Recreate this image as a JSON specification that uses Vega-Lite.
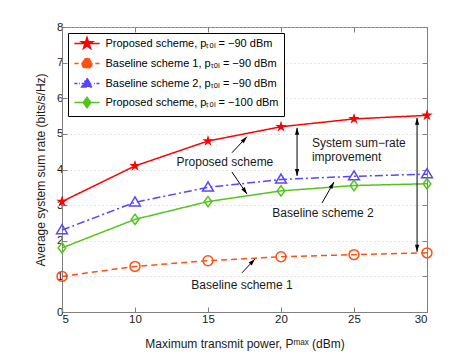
{
  "$schema": "https://vega.github.io/schema/vega-lite/v6.json",
  "width": 365,
  "height": 285,
  "autosize": {"type": "none"},
  "padding": {"left": 62, "top": 27, "right": 44, "bottom": 40},
  "config": {
    "font": "Liberation Sans",
    "view": {"stroke": "#808080", "strokeWidth": 1},
    "axis": {
      "domainColor": "#808080",
      "tickColor": "#808080",
      "labelColor": "#1a1a1a",
      "titleColor": "#1a1a1a",
      "labelFontSize": 11.5,
      "titleFontSize": 12,
      "titleFontWeight": "normal",
      "tickSize": -5,
      "labelPadding": 4,
      "gridColor": "#c8c8c8",
      "gridDash": [1, 3]
    },
    "legend": {
      "orient": "top-left",
      "offset": 6,
      "strokeColor": "#000000",
      "fillColor": "#ffffff",
      "padding": 5,
      "symbolSize": 81,
      "symbolStrokeWidth": 1.5,
      "symbolOpacity": 1,
      "symbolFillColor": "transparent",
      "labelFontSize": 11,
      "labelColor": "#000000",
      "labelLimit": 400,
      "symbolOffset": 8.5,
      "labelOffset": 13,
      "rowPadding": 3
    }
  },
  "datasets": {
    "series": [
      {"x": 5, "y": 3.1, "series": "Proposed scheme, pₜₒₗ = −90 dBm"},
      {"x": 10, "y": 4.1, "series": "Proposed scheme, pₜₒₗ = −90 dBm"},
      {"x": 15, "y": 4.8, "series": "Proposed scheme, pₜₒₗ = −90 dBm"},
      {"x": 20, "y": 5.2, "series": "Proposed scheme, pₜₒₗ = −90 dBm"},
      {"x": 25, "y": 5.42, "series": "Proposed scheme, pₜₒₗ = −90 dBm"},
      {"x": 30, "y": 5.52, "series": "Proposed scheme, pₜₒₗ = −90 dBm"},
      {"x": 5, "y": 1.0, "series": "Baseline scheme 1, pₜₒₗ = −90 dBm"},
      {"x": 10, "y": 1.28, "series": "Baseline scheme 1, pₜₒₗ = −90 dBm"},
      {"x": 15, "y": 1.44, "series": "Baseline scheme 1, pₜₒₗ = −90 dBm"},
      {"x": 20, "y": 1.55, "series": "Baseline scheme 1, pₜₒₗ = −90 dBm"},
      {"x": 25, "y": 1.61, "series": "Baseline scheme 1, pₜₒₗ = −90 dBm"},
      {"x": 30, "y": 1.66, "series": "Baseline scheme 1, pₜₒₗ = −90 dBm"},
      {"x": 5, "y": 2.3, "series": "Baseline scheme 2, pₜₒₗ = −90 dBm"},
      {"x": 10, "y": 3.08, "series": "Baseline scheme 2, pₜₒₗ = −90 dBm"},
      {"x": 15, "y": 3.5, "series": "Baseline scheme 2, pₜₒₗ = −90 dBm"},
      {"x": 20, "y": 3.72, "series": "Baseline scheme 2, pₜₒₗ = −90 dBm"},
      {"x": 25, "y": 3.81, "series": "Baseline scheme 2, pₜₒₗ = −90 dBm"},
      {"x": 30, "y": 3.87, "series": "Baseline scheme 2, pₜₒₗ = −90 dBm"},
      {"x": 5, "y": 1.8, "series": "Proposed scheme, pₜₒₗ = −100 dBm"},
      {"x": 10, "y": 2.6, "series": "Proposed scheme, pₜₒₗ = −100 dBm"},
      {"x": 15, "y": 3.1, "series": "Proposed scheme, pₜₒₗ = −100 dBm"},
      {"x": 20, "y": 3.4, "series": "Proposed scheme, pₜₒₗ = −100 dBm"},
      {"x": 25, "y": 3.55, "series": "Proposed scheme, pₜₒₗ = −100 dBm"},
      {"x": 30, "y": 3.6, "series": "Proposed scheme, pₜₒₗ = −100 dBm"}
    ],
    "arrows": [
      {"x1": 16.64, "y1": 4.47, "x2": 17.67, "y2": 4.92, "both": false},
      {"x1": 16.64, "y1": 3.93, "x2": 17.67, "y2": 3.31, "both": false},
      {"x1": 21.1, "y1": 3.82, "x2": 21.1, "y2": 5.17, "both": true},
      {"x1": 29.32, "y1": 1.69, "x2": 29.32, "y2": 5.45, "both": true},
      {"x1": 22.81, "y1": 3.06, "x2": 23.63, "y2": 3.65, "both": false},
      {"x1": 17.33, "y1": 1.1, "x2": 18.22, "y2": 1.49, "both": false}
    ],
    "textsCenter": [
      {"x": 16.16, "y": 4.21, "label": "Proposed scheme"},
      {"x": 22.88, "y": 2.78, "label": "Baseline scheme 2"},
      {"x": 17.33, "y": 0.76, "label": "Baseline scheme 1"}
    ],
    "textsLeft": [
      {"x": 22.12, "y": 4.75, "label": "System sum−rate"},
      {"x": 22.12, "y": 4.35, "label": "improvement"}
    ]
  },
  "layer": [
    {
      "data": {"name": "series"},
      "transform": [{"filter": "datum.x > 1000"}],
      "mark": {"type": "point", "filled": false, "strokeWidth": 1.5, "size": 81},
      "encoding": {
        "x": {"field": "x", "type": "quantitative", "scale": {"domain": [5, 30], "nice": false}, "axis": null},
        "y": {"field": "y", "type": "quantitative", "scale": {"domain": [0, 8], "nice": false}, "axis": null},
        "color": {"field": "series", "type": "nominal",
          "scale": {"domain": ["Proposed scheme, pₜₒₗ = −90 dBm", "Baseline scheme 1, pₜₒₗ = −90 dBm", "Baseline scheme 2, pₜₒₗ = −90 dBm", "Proposed scheme, pₜₒₗ = −100 dBm"],
            "range": ["#ff0000", "#ff5014", "#5846ff", "#55c41a"]},
          "legend": {"title": null, "labelExpr": "datum.label + '\u00a0\u00a0\u00a0'"}},
        "shape": {"field": "series", "type": "nominal",
          "scale": {"domain": ["Proposed scheme, pₜₒₗ = −90 dBm", "Baseline scheme 1, pₜₒₗ = −90 dBm", "Baseline scheme 2, pₜₒₗ = −90 dBm", "Proposed scheme, pₜₒₗ = −100 dBm"],
            "range": [
              "M-2.8,0L2.8,0M0,-1.33L0.3,-0.41L1.27,-0.41L0.48,0.16L0.78,1.08L0,0.51L-0.78,1.08L-0.48,0.16L-1.27,-0.41L-0.3,-0.41ZM0,-0.96L0.22,-0.3L0.91,-0.3L0.35,0.12L0.56,0.78L0,0.37L-0.56,0.78L-0.35,0.12L-0.91,-0.3L-0.22,-0.3ZM0,-0.6L0.14,-0.18L0.57,-0.18L0.22,0.07L0.35,0.49L0,0.23L-0.35,0.49L-0.22,0.07L-0.57,-0.18L-0.14,-0.18ZM0,-0.27L0.25,-0.08L0.16,0.22L-0.16,0.22L-0.25,-0.08Z",
              "M-2.8,0L-1.85,0M-1.1,0L1.1,0M1.85,0L2.8,0M1.1,0A1.1,1.1 0 1,1 -1.1,0A1.1,1.1 0 1,1 1.1,0Z",
              "M-2.8,0L-2.1,0M-1.75,0L-1.55,0M-1.2,0L1.2,0M1.55,0L1.75,0M2.1,0L2.8,0M0,-1.2L1.2,0.8L-1.2,0.8Z",
              "M-2.8,0L2.8,0M0,-1.15L0.85,0L0,1.15L-0.85,0Z"]},
          "legend": {"title": null, "labelExpr": "datum.label + '\u00a0\u00a0\u00a0'"}}
      }
    },
    {
      "data": {"name": "series"},
      "mark": {"type": "line", "strokeWidth": 1.5},
      "encoding": {
        "x": {"field": "x", "type": "quantitative",
          "axis": {"orient": "bottom", "values": [5, 10, 15, 20, 25, 30], "grid": false, "title": "Maximum transmit power, Pᵐᵃˣ (dBm)", "titlePadding": 14, "labelPadding": 6}},
        "y": {"field": "y", "type": "quantitative",
          "axis": {"orient": "left", "values": [0, 1, 2, 3, 4, 5, 6, 7, 8], "grid": true, "title": "Average system sum rate (bits/s/Hz)", "titlePadding": 9}},
        "color": {"field": "series", "type": "nominal", "legend": null},
        "strokeDash": {"field": "series", "type": "nominal",
          "scale": {"domain": ["Proposed scheme, pₜₒₗ = −90 dBm", "Baseline scheme 1, pₜₒₗ = −90 dBm", "Baseline scheme 2, pₜₒₗ = −90 dBm", "Proposed scheme, pₜₒₗ = −100 dBm"],
            "range": [[1, 0], [6, 4], [8, 3, 2, 3], [1, 0]]}, "legend": null}
      }
    },
    {
      "data": {"name": "series"},
      "transform": [{"filter": "datum.series === 'Proposed scheme, pₜₒₗ = −90 dBm'"}],
      "mark": {"type": "point", "filled": true, "strokeWidth": 1.5, "size": 81, "opacity": 1,
        "shape": "M0,-1.33L0.3,-0.41L1.27,-0.41L0.48,0.16L0.78,1.08L0,0.51L-0.78,1.08L-0.48,0.16L-1.27,-0.41L-0.3,-0.41Z"},
      "encoding": {
        "x": {"field": "x", "type": "quantitative", "axis": null},
        "y": {"field": "y", "type": "quantitative", "axis": null},
        "color": {"field": "series", "type": "nominal", "legend": null}
      }
    },
    {
      "data": {"name": "series"},
      "transform": [{"filter": "datum.series === 'Baseline scheme 1, pₜₒₗ = −90 dBm'"}],
      "mark": {"type": "point", "filled": false, "strokeWidth": 1.5, "size": 81, "opacity": 1,
        "shape": "M1.1,0A1.1,1.1 0 1,1 -1.1,0A1.1,1.1 0 1,1 1.1,0Z"},
      "encoding": {
        "x": {"field": "x", "type": "quantitative", "axis": null},
        "y": {"field": "y", "type": "quantitative", "axis": null},
        "color": {"field": "series", "type": "nominal", "legend": null}
      }
    },
    {
      "data": {"name": "series"},
      "transform": [{"filter": "datum.series === 'Baseline scheme 2, pₜₒₗ = −90 dBm'"}],
      "mark": {"type": "point", "filled": false, "strokeWidth": 1.5, "size": 81, "opacity": 1,
        "shape": "M0,-1.2L1.2,0.8L-1.2,0.8Z"},
      "encoding": {
        "x": {"field": "x", "type": "quantitative", "axis": null},
        "y": {"field": "y", "type": "quantitative", "axis": null},
        "color": {"field": "series", "type": "nominal", "legend": null}
      }
    },
    {
      "data": {"name": "series"},
      "transform": [{"filter": "datum.series === 'Proposed scheme, pₜₒₗ = −100 dBm'"}],
      "mark": {"type": "point", "filled": false, "strokeWidth": 1.5, "size": 81, "opacity": 1,
        "shape": "M0,-1.15L0.85,0L0,1.15L-0.85,0Z"},
      "encoding": {
        "x": {"field": "x", "type": "quantitative", "axis": null},
        "y": {"field": "y", "type": "quantitative", "axis": null},
        "color": {"field": "series", "type": "nominal", "legend": null}
      }
    },
    {
      "data": {"name": "series"},
      "mark": {"type": "point", "opacity": 0},
      "encoding": {
        "x": {"field": "x", "type": "quantitative", "axis": {"orient": "top", "values": [5, 10, 15, 20, 25, 30], "labels": false, "title": null, "grid": false, "domain": false}},
        "y": {"field": "y", "type": "quantitative", "axis": {"orient": "right", "values": [0, 1, 2, 3, 4, 5, 6, 7, 8], "labels": false, "title": null, "grid": false, "domain": false}}
      }
    },
    {
      "data": {"name": "arrows"},
      "mark": {"type": "rule", "color": "#000000", "strokeWidth": 1},
      "encoding": {
        "x": {"field": "x1", "type": "quantitative", "axis": null},
        "y": {"field": "y1", "type": "quantitative", "axis": null},
        "x2": {"field": "x2"},
        "y2": {"field": "y2"}
      }
    },
    {
      "data": {"name": "arrows"},
      "transform": [
        {"calculate": "atan2((datum.x2 - datum.x1) * 14.6, (datum.y2 - datum.y1) * 35.625) * 180 / PI", "as": "ang"}
      ],
      "mark": {"type": "point", "shape": "M0,0L0.6,2L-0.6,2Z", "size": 49, "filled": true, "color": "#000000", "opacity": 1},
      "encoding": {
        "x": {"field": "x2", "type": "quantitative", "axis": null},
        "y": {"field": "y2", "type": "quantitative", "axis": null},
        "angle": {"field": "ang", "type": "quantitative", "scale": null}
      }
    },
    {
      "data": {"name": "arrows"},
      "transform": [
        {"filter": "datum.both"},
        {"calculate": "atan2((datum.x1 - datum.x2) * 14.6, (datum.y1 - datum.y2) * 35.625) * 180 / PI", "as": "ang"}
      ],
      "mark": {"type": "point", "shape": "M0,0L0.6,2L-0.6,2Z", "size": 49, "filled": true, "color": "#000000", "opacity": 1},
      "encoding": {
        "x": {"field": "x1", "type": "quantitative", "axis": null},
        "y": {"field": "y1", "type": "quantitative", "axis": null},
        "angle": {"field": "ang", "type": "quantitative", "scale": null}
      }
    },
    {
      "data": {"name": "textsCenter"},
      "mark": {"type": "text", "fontSize": 12, "align": "center", "baseline": "middle", "color": "#1a1a1a"},
      "encoding": {
        "x": {"field": "x", "type": "quantitative", "axis": null},
        "y": {"field": "y", "type": "quantitative", "axis": null},
        "text": {"field": "label"}
      }
    },
    {
      "data": {"name": "textsLeft"},
      "mark": {"type": "text", "fontSize": 12, "align": "left", "baseline": "middle", "color": "#1a1a1a"},
      "encoding": {
        "x": {"field": "x", "type": "quantitative", "axis": null},
        "y": {"field": "y", "type": "quantitative", "axis": null},
        "text": {"field": "label"}
      }
    }
  ],
  "resolve": {"axis": {"x": "independent", "y": "independent"}}
}
